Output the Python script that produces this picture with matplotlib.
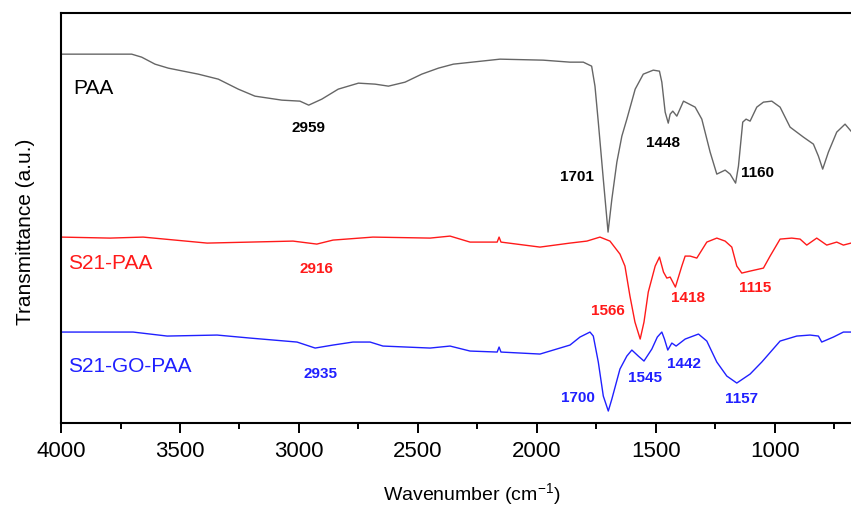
# FTIR spectra of PAA, S21-PAA and S21-GO-PAA (stacked, arbitrary units)
import matplotlib
matplotlib.use("Agg")
import matplotlib.pyplot as plt
from matplotlib.ticker import MultipleLocator

plt.rcParams['font.family'] = ['Liberation Sans', 'DejaVu Sans']
plt.rcParams['mathtext.fontset'] = 'custom'
plt.rcParams['mathtext.rm'] = 'Liberation Sans'
plt.rcParams['mathtext.it'] = 'Liberation Sans:italic'
plt.rcParams['mathtext.bf'] = 'Liberation Sans:bold'

# --- Data --------------------------------------------------------------------
paa_wn = [3997, 3885, 3703, 3661, 3605, 3549, 3423, 3339, 3255, 3185, 3072,
          2996, 2959, 2904, 2835, 2750, 2680, 2624, 2554, 2484, 2414, 2351,
          2155, 1974, 1861, 1805, 1770, 1756, 1742, 1721, 1701, 1685, 1664,
          1643, 1622, 1587, 1553, 1511, 1485, 1475, 1461, 1448, 1440, 1429,
          1412, 1384, 1335, 1307, 1272, 1244, 1209, 1188, 1165, 1153, 1135,
          1121, 1104, 1076, 1048, 1013, 978, 936, 880, 838, 817, 799, 775,
          740, 705, 680]
paa_t = [369, 369, 369, 366, 359, 355, 349, 344, 334, 327, 323,
         322, 318, 324, 334, 340, 339, 337, 341, 349, 355, 359,
         364, 363, 361, 361, 357, 337, 301, 244, 191, 224, 261,
         287, 304, 334, 349, 353, 352, 341, 311, 300, 309, 312,
         307, 322, 316, 304, 271, 249, 253, 249, 240, 257, 301,
         304, 302, 316, 321, 322, 316, 296, 286, 279, 267, 254, 271,
         291, 299, 292]

s21_wn = [4000, 3794, 3655, 3386, 3025, 2925, 2857, 2689, 2449, 2365, 2281,
          2167, 2159, 2151, 1987, 1861, 1790, 1735, 1693, 1651, 1630, 1609,
          1588, 1566, 1550, 1532, 1503, 1485, 1468, 1454, 1440, 1418, 1391,
          1377, 1356, 1328, 1286, 1244, 1209, 1181, 1160, 1139, 1104, 1048,
          1020, 978, 929, 894, 866, 824, 782, 740, 712, 680]
s21_t = [186, 185, 186, 180, 182, 179, 183, 186, 185, 187, 181,
         181, 186, 181, 176, 180, 182, 186, 182, 169, 157, 127,
         101, 84, 101, 131, 157, 166, 151, 145, 146, 136, 157,
         167, 167, 165, 181, 185, 182, 176, 157, 150, 152, 155,
         167, 184, 185, 184, 178, 185, 178, 181, 178, 180]

go_wn = [4000, 3697, 3554, 3344, 3206, 3008, 2932, 2857, 2773, 2701, 2647,
         2449, 2365, 2281, 2167, 2159, 2151, 1987, 1861, 1819, 1777, 1763,
         1742, 1721, 1700, 1685, 1651, 1622, 1601, 1574, 1550, 1517, 1494,
         1475, 1464, 1450, 1433, 1415, 1377, 1321, 1286, 1244, 1202, 1160,
         1104, 1055, 978, 908, 852, 817, 803, 754, 712, 680]
go_t = [91, 91, 87, 88, 85, 81, 75, 78, 81, 81, 77,
        75, 77, 72, 71, 76, 71, 69, 78, 86, 91, 87,
        61, 27, 12, 24, 54, 67, 73, 67, 62, 74, 86,
        91, 84, 73, 80, 77, 84, 89, 82, 61, 47, 40,
        49, 61, 82, 87, 88, 87, 81, 86, 91, 91]

# peak labels: (text, wavenumber position, height position)
paa_peaks = [('2959', 2962, 296), ('1701', 1831, 247), ('1448', 1470, 281), ('1160', 1071, 251)]
s21_peaks = [('2916', 2928, 155), ('1566', 1701, 113), ('1418', 1365, 126), ('1115', 1083, 136)]
go_peaks = [('2935', 2911, 50), ('1700', 1827, 26), ('1545', 1545, 46), ('1442', 1382, 60), ('1157', 1142, 25)]

# --- Plot --------------------------------------------------------------------
fig = plt.figure(figsize=(8.51, 5.06), dpi=100)
ax = fig.add_axes([0.0717, 0.162, 0.9283, 0.810])

red = '#ff1a1a'
blue = '#2020ff'
ax.plot(paa_wn, paa_t, color='#666666', lw=1.0)
ax.plot(s21_wn, s21_t, color=red, lw=1.0)
ax.plot(go_wn, go_t, color=blue, lw=1.0)

ax.text(3950, 336, 'PAA', fontsize=15, color='black', va='center', ha='left')
ax.text(3971, 161, 'S21-PAA', fontsize=15, color=red, va='center', ha='left')
ax.text(3971, 58, 'S21-GO-PAA', fontsize=15, color=blue, va='center', ha='left')

for peaks, col in [(paa_peaks, 'black'), (s21_peaks, red), (go_peaks, blue)]:
    for txt, xw, yt in peaks:
        ax.text(xw, yt, txt, fontsize=11, fontweight='bold', color=col,
                ha='center', va='center')

ax.set_xlim(4000, 680)
ax.set_ylim(0, 410)
ax.xaxis.set_major_locator(MultipleLocator(500))
ax.xaxis.set_minor_locator(MultipleLocator(250))
ax.tick_params(axis='x', which='major', length=7, width=1.4, labelsize=16, pad=5)
ax.tick_params(axis='x', which='minor', length=4, width=1.4)
ax.set_yticks([])
ax.spines['right'].set_visible(False)
for s in ['left', 'top', 'bottom']:
    ax.spines[s].set_linewidth(1.5)

ax.set_xlabel('Wavenumber (cm$^{-1}$)', fontsize=14, labelpad=14)
ax.xaxis.label.set_x(0.52)
ax.set_ylabel('Transmittance (a.u.)', fontsize=15, labelpad=19)
ax.yaxis.label.set_y(0.47)

fig.savefig('out.png', dpi=100)
